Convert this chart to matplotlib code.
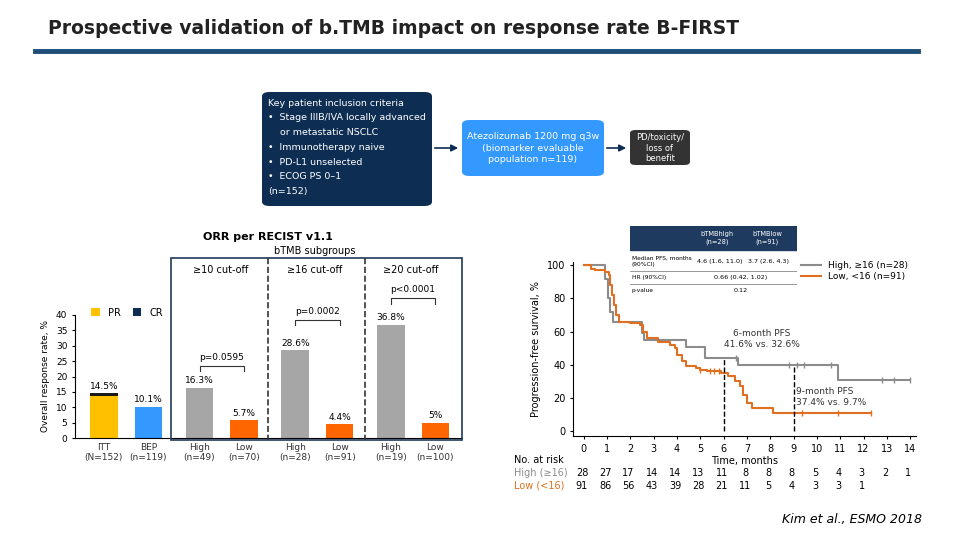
import matplotlib.pyplot as plt
from matplotlib.patches import FancyBboxPatch, Rectangle
import numpy as np

W, H = 960, 540

# ORR bars
bar_labels = ["ITT\n(N=152)", "BEP\n(n=119)", "High\n(n=49)", "Low\n(n=70)",
              "High\n(n=28)", "Low\n(n=91)", "High\n(n=19)", "Low\n(n=100)"]
pr_vals = [13.8, 10.1, 16.3, 5.7, 28.6, 4.4, 36.8, 5.0]
cr_vals = [0.7, 0, 0, 0, 0, 0, 0, 0]
bar_text = ["14.5%", "10.1%", "16.3%", "5.7%", "28.6%", "4.4%", "36.8%", "5%"]
bar_colors = ["#ffc000", "#3399ff", "#a6a6a6", "#ff6600",
              "#a6a6a6", "#ff6600", "#a6a6a6", "#ff6600"]
cutoffs = ["≥10 cut-off", "≥16 cut-off", "≥20 cut-off"]
pvals = ["p=0.0595", "p=0.0002", "p<0.0001"]
bracket_tops = [23.5, 38.5, 45.5]

# KM curves (step points)
high_t = [0, 0.9, 1.05, 1.15, 1.25, 1.4, 2.5, 2.6, 2.8, 4.4, 5.2, 6.6, 10.9, 14]
high_s = [100, 92, 80, 72, 66, 66, 59, 55, 55, 51, 44, 40, 31, 31]
high_cens = [6.55, 8.8, 9.15, 9.45, 10.6, 12.8, 13.3, 14]
low_t = [0, 0.3, 0.5, 0.9, 1.1, 1.15, 1.2, 1.3, 1.4, 1.5, 2.0, 2.4, 2.55, 2.7, 3.2,
         3.7, 3.9, 4.0, 4.2, 4.4, 4.8, 5.0, 5.3, 5.9, 6.2, 6.5, 6.7, 6.85, 7.0,
         7.2, 8.1, 12.3]
low_s = [100, 98, 97, 96, 94, 88, 82, 76, 70, 66, 65, 64, 60, 56, 54,
         52, 50, 46, 42, 39, 38, 37, 36, 35, 33, 30, 27, 22, 17,
         14, 11, 11]
low_cens = [5.0, 5.4, 5.6, 5.8, 9.35, 10.9, 12.3]
risk_months = list(range(15))
risk_high = [28, 27, 17, 14, 14, 13, 11, 8, 8, 8, 5, 4, 3, 2, 1]
risk_low = [91, 86, 56, 43, 39, 28, 21, 11, 5, 4, 3, 3, 1]

NAVY = "#0d2d52"
GRAY = "#8c8c8c"
ORANGE = "#e07020"


def fx(x):
    return x / W


def fy(y):
    return 1 - y / H


def axes_px(x0, y0, x1, y1):
    return fig.add_axes([fx(x0), fy(y1), (x1 - x0) / W, (y1 - y0) / H])


fig = plt.figure(figsize=(9.6, 5.4), dpi=100)
plt.rcParams["font.family"] = "DejaVu Sans"

# title
fig.text(fx(48), fy(28), "Prospective validation of b.TMB impact on response rate B-FIRST",
         fontsize=13.5, fontweight="bold", color="#222", va="center")
fig.add_artist(plt.Line2D([fx(35), fx(918)], [fy(51), fy(51)], color="#1f4e79", lw=3.5))
fig.text(fx(922), fy(520), "Kim et al., ESMO 2018", fontsize=9, style="italic",
         ha="right", va="center")

# flow diagram
fig.add_artist(FancyBboxPatch((fx(262), fy(206)), fx(170), 114 / H,
               boxstyle="round,pad=0,rounding_size=0.008", fc=NAVY, ec="none",
               transform=fig.transFigure))
crit = ["Key patient inclusion criteria", "•  Stage IIIB/IVA locally advanced",
        "    or metastatic NSCLC", "•  Immunotherapy naive", "•  PD-L1 unselected",
        "•  ECOG PS 0–1", "(n=152)"]
for i, s in enumerate(crit):
    fig.text(fx(268), fy(103 + i * 14.8), s, color="white", fontsize=6.8, va="center")
fig.add_artist(FancyBboxPatch((fx(462), fy(176)), fx(142), 56 / H,
               boxstyle="round,pad=0,rounding_size=0.008", fc="#3399ff", ec="none",
               transform=fig.transFigure))
fig.text(fx(533), fy(148), "Atezolizumab 1200 mg q3w\n(biomarker evaluable\npopulation n=119)",
         color="white", fontsize=6.8, ha="center", va="center", linespacing=1.3)
fig.add_artist(FancyBboxPatch((fx(630), fy(165)), fx(60), 35 / H,
               boxstyle="round,pad=0,rounding_size=0.006", fc="#333333", ec="none",
               transform=fig.transFigure))
fig.text(fx(660), fy(148), "PD/toxicity/\nloss of\nbenefit", color="white", fontsize=6,
         ha="center", va="center")
for x0, x1 in [(432, 461), (604, 629)]:
    fig.add_artist(plt.Annotation("", xy=(fx(x1), fy(148)), xytext=(fx(x0), fy(148)),
                   xycoords="figure fraction",
                   arrowprops=dict(arrowstyle="-|>", color=NAVY, lw=1.2)))

# ORR bar chart
fig.text(fx(268), fy(237), "ORR per RECIST v1.1", fontsize=8, fontweight="bold",
         ha="center", va="center")
fig.text(fx(315), fy(251), "bTMB subgroups", fontsize=7, ha="center", va="center")
fig.add_artist(Rectangle((fx(171), fy(440)), fx(291), 182 / H, fill=False,
               ec="#1f3a5a", lw=1.2, transform=fig.transFigure))
for xd in [268, 365]:
    fig.add_artist(plt.Line2D([fx(xd), fx(xd)], [fy(258), fy(440)], color="#333",
                   lw=1.2, ls="--"))
for c, xc in zip(cutoffs, [221, 315, 411]):
    fig.text(fx(xc), fy(270), c, fontsize=7, ha="center", va="center")

ax = axes_px(75, 315, 462, 438)
xpos = np.array([0, 1, 2.15, 3.15, 4.3, 5.3, 6.45, 7.45])
ax.bar(xpos, pr_vals, width=0.62, color=bar_colors)
ax.bar(xpos, cr_vals, bottom=pr_vals, width=0.62, color="#1a1a1a")
for x, v, c, t in zip(xpos, pr_vals, cr_vals, bar_text):
    ax.text(x, v + c + 0.8, t, ha="center", va="bottom", fontsize=6.5)
for k, (p, top) in enumerate(zip(pvals, bracket_tops)):
    a, b = xpos[2 + 2 * k], xpos[3 + 2 * k]
    ax.plot([a, a, b, b], [top - 1.8, top, top, top - 1.8], color="#333", lw=0.8,
            clip_on=False)
    ax.text((a + b) / 2, top + 1.2, p, ha="center", va="bottom", fontsize=6.5)
ax.set_xlim(-0.65, 8.05)
ax.set_ylim(0, 40)
ax.set_yticks(range(0, 41, 5))
ax.tick_params(axis="y", labelsize=6.5, length=2)
ax.set_xticks(xpos)
ax.set_xticklabels(bar_labels, fontsize=6.5, color="#333")
ax.tick_params(axis="x", length=0)
for s in ["top", "right"]:
    ax.spines[s].set_visible(False)
ax.set_ylabel("Overall response rate, %", fontsize=6.5)
ax.patch.set_alpha(0)
ax.bar([0], [0], color="#ffc000", label="PR")
ax.bar([0], [0], color=NAVY, label="CR")
ax.legend(loc="upper left", bbox_to_anchor=(0.02, 1.13), ncol=2, frameon=False,
          fontsize=7, handlelength=0.9, handleheight=0.9, columnspacing=1.2)

# KM plot
km = axes_px(573, 262, 916, 436)
km.set_xlim(-0.45, 14.25)
km.set_ylim(-3, 102)
km.step(high_t, high_s, where="post", color=GRAY, lw=1.5, label="High, ≥16 (n=28)")
km.step(low_t, low_s, where="post", color=ORANGE, lw=1.5, label="Low, <16 (n=91)")
for cens, t, s, col in [(high_cens, high_t, high_s, GRAY), (low_cens, low_t, low_s, ORANGE)]:
    ys = [s[np.searchsorted(t, c, side="right") - 1] for c in cens]
    km.plot(cens, ys, "|", color=col, ms=5, mew=1)
for m, ytop in [(6, 44), (9, 40)]:
    km.plot([m, m], [0, ytop], color="black", ls="--", lw=1)
km.text(7.65, 51, "6-month PFS\n41.6% vs. 32.6%", fontsize=6.5, ha="center", color="#333")
km.text(9.1, 16, "9-month PFS\n37.4% vs. 9.7%", fontsize=6.5, ha="left", color="#333")
km.set_xticks(risk_months)
km.set_yticks(range(0, 101, 20))
km.tick_params(labelsize=7, length=2)
for s in ["top", "right"]:
    km.spines[s].set_visible(False)
km.set_ylabel("Progression-free survival, %", fontsize=7)
km.legend(loc="upper left", bbox_to_anchor=(0.64, 1.05), frameon=False, fontsize=6.5,
          handlelength=2.2, labelspacing=0.2)

# risk table
fig.text(fx(514), fy(460), "No. at risk", fontsize=7, va="center")
fig.text(fx(514), fy(473), "High (≥16)", fontsize=7, va="center", color=GRAY)
fig.text(fx(514), fy(486), "Low (<16)", fontsize=7, va="center", color=ORANGE)
fig.text(fx(745), fy(461), "Time, months", fontsize=7, ha="center", va="center")
for m, v in zip(risk_months, risk_high):
    fig.text(fx(582 + m * 23.3), fy(473), str(v), fontsize=7, ha="center", va="center")
for m, v in zip(risk_months, risk_low):
    fig.text(fx(582 + m * 23.3), fy(486), str(v), fontsize=7, ha="center", va="center")

# summary table
tab = axes_px(630, 226, 797, 297)
tab.set_xlim(0, 1)
tab.set_ylim(0, 1)
tab.axis("off")
tab.add_patch(Rectangle((0, 0.66), 1, 0.34, color="#1f3a5f"))
tab.text(0.52, 0.83, "bTMBhigh\n(n=28)", color="white", fontsize=4.8, ha="center", va="center")
tab.text(0.82, 0.83, "bTMBlow\n(n=91)", color="white", fontsize=4.8, ha="center", va="center")
tab.text(0.01, 0.5, "Median PFS, months\n(90%CI)", fontsize=4.2, va="center")
tab.text(0.54, 0.5, "4.6 (1.6, 11.0)", fontsize=4.6, ha="center", va="center")
tab.text(0.83, 0.5, "3.7 (2.6, 4.3)", fontsize=4.6, ha="center", va="center")
tab.text(0.01, 0.27, "HR (90%CI)", fontsize=4.2, va="center")
tab.text(0.66, 0.27, "0.66 (0.42, 1.02)", fontsize=4.6, ha="center", va="center")
tab.text(0.01, 0.09, "p-value", fontsize=4.2, va="center")
tab.text(0.66, 0.09, "0.12", fontsize=4.6, ha="center", va="center")
for yl in [0.36, 0.18, 0.0]:
    tab.plot([0, 1], [yl, yl], color="#888", lw=0.6)

fig.savefig("out.png", dpi=100)
